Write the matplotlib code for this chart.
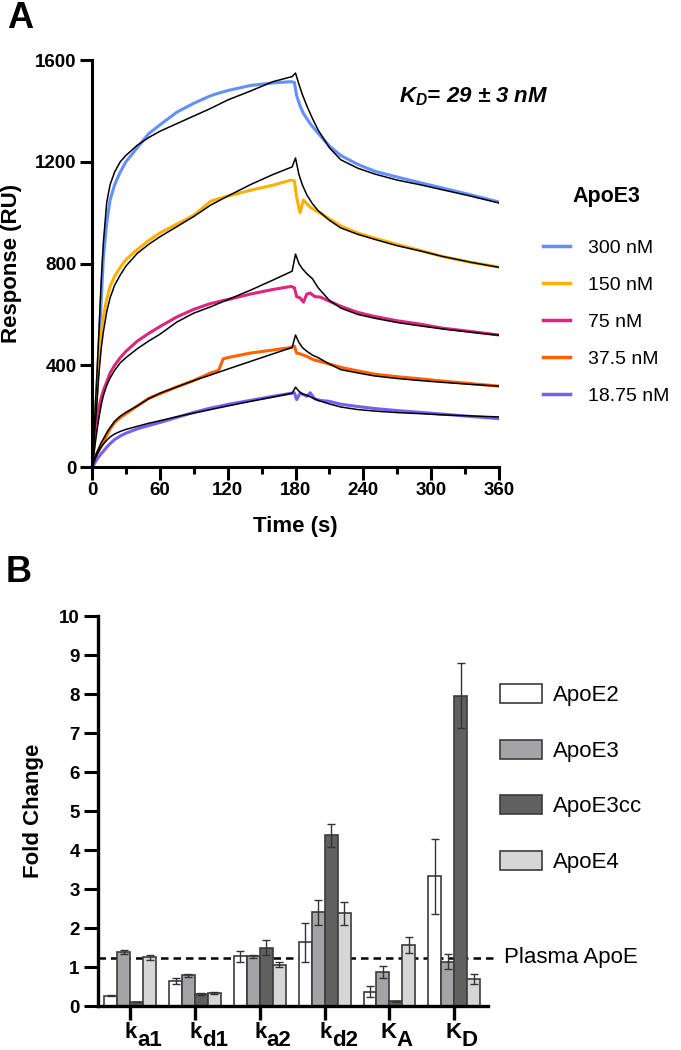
import numpy as np
import matplotlib
matplotlib.use('Agg')
import matplotlib.pyplot as plt
from matplotlib.lines import Line2D
from matplotlib.patches import Patch

plt.rcParams['font.family'] = ['Liberation Sans', 'DejaVu Sans']
plt.rcParams['mathtext.fontset'] = 'custom'
plt.rcParams['mathtext.it'] = 'Liberation Sans:bold:italic'
plt.rcParams['mathtext.rm'] = 'Liberation Sans:bold:italic'

# ---------------- Panel A: sensorgrams (RU vs s) ----------------
t_data = [0, 1, 2, 4, 6, 8, 10, 13, 16, 20, 25, 30, 40, 50, 60, 75, 90, 105, 112, 116, 120,
          140, 160, 176, 179, 181, 184, 187, 190, 193, 197, 202, 210, 220, 235, 250, 270,
          290, 310, 335, 360]
t_fit = [0, 1, 2, 4, 6, 8, 10, 13, 16, 20, 25, 30, 40, 50, 60, 75, 90, 105, 120, 140, 160,
         177, 180, 183, 186, 190, 195, 200, 210, 220, 235, 250, 270, 290, 310, 335, 360]

conc_labels = ['300 nM', '150 nM', '75 nM', '37.5 nM', '18.75 nM']
conc_colors = ['#648FFF', '#FFB000', '#DC267F', '#FE6100', '#785EF0']

resp_300 = [0, 40, 110, 280, 460, 640, 820, 960, 1050, 1110, 1160, 1200, 1255, 1310, 1345,
            1395, 1430, 1460, 1470, 1475, 1480, 1500, 1510, 1515, 1512, 1460, 1420, 1390,
            1370, 1350, 1328, 1302, 1262, 1225, 1190, 1163, 1140, 1118, 1097, 1070, 1042]
resp_150 = [0, 70, 140, 280, 420, 520, 590, 660, 710, 750, 785, 815, 855, 890, 920, 955,
            990, 1045, 1055, 1060, 1065, 1088, 1108, 1128, 1125, 1060, 1000, 1050, 1035,
            1022, 1010, 998, 975, 948, 920, 900, 875, 852, 828, 805, 786]
resp_75 = [0, 40, 110, 180, 230, 270, 300, 335, 370, 400, 430, 455, 495, 525, 552, 590,
           620, 643, 650, 655, 658, 680, 698, 710, 705, 670, 665, 648, 680, 684, 670, 668,
           652, 632, 608, 592, 575, 562, 546, 533, 519]
resp_37 = [0, 10, 25, 50, 65, 80, 95, 125, 150, 175, 195, 210, 240, 270, 288, 315, 340,
           370, 380, 425, 430, 448, 460, 470, 475, 448, 445, 440, 435, 428, 420, 415, 405,
           392, 378, 365, 355, 347, 338, 328, 318]
resp_18 = [0, 5, 12, 28, 40, 52, 62, 78, 92, 108, 122, 133, 150, 163, 175, 195, 215, 232,
           238, 242, 246, 262, 278, 290, 292, 265, 290, 285, 278, 292, 268, 262, 258, 247,
           238, 230, 222, 215, 208, 199, 190]

fit_300 = [0, 70, 160, 330, 520, 720, 880, 1040, 1110, 1160, 1200, 1225, 1265, 1295, 1320,
           1350, 1380, 1410, 1443, 1478, 1515, 1535, 1549, 1505, 1465, 1420, 1370, 1325,
           1255, 1208, 1175, 1152, 1128, 1110, 1090, 1065, 1038]
fit_150 = [0, 60, 120, 230, 360, 460, 530, 610, 665, 715, 755, 790, 840, 875, 905, 945,
           985, 1030, 1065, 1110, 1150, 1180, 1215, 1150, 1110, 1070, 1035, 1008, 970, 940,
           915, 895, 870, 850, 828, 805, 785]
fit_75 = [0, 30, 65, 130, 190, 240, 280, 320, 350, 380, 410, 430, 465, 495, 522, 570, 605,
          630, 658, 695, 735, 770, 837, 800, 780, 760, 740, 705, 655, 625, 600, 585, 568,
          555, 543, 530, 518]
fit_37 = [0, 15, 30, 55, 75, 95, 110, 135, 155, 180, 200, 215, 240, 268, 290, 315, 340, 362,
          385, 415, 445, 470, 519, 490, 470, 455, 440, 430, 405, 383, 370, 358, 348, 340,
          333, 325, 318]
fit_18 = [0, 10, 22, 45, 62, 78, 90, 105, 118, 130, 140, 148, 160, 172, 182, 198, 212, 226,
          240, 258, 275, 290, 314, 298, 288, 282, 272, 262, 248, 236, 226, 220, 214, 210,
          205, 201, 197]

responses = [resp_300, resp_150, resp_75, resp_37, resp_18]
fits = [fit_300, fit_150, fit_75, fit_37, fit_18]

# ---------------- Panel B: fold change ----------------
params = ['a1', 'd1', 'a2', 'd2', 'A', 'D']
param_letters = ['k', 'k', 'k', 'k', 'K', 'K']
isoforms = ['ApoE2', 'ApoE3', 'ApoE3cc', 'ApoE4']
iso_colors = ['#ffffff', '#a3a3a8', '#606060', '#d6d6d6']

fold = {
    'ApoE2':   [0.26, 0.65, 1.27, 1.63, 0.37, 3.33],
    'ApoE3':   [1.39, 0.79, 1.27, 2.41, 0.88, 1.14],
    'ApoE3cc': [0.10, 0.31, 1.50, 4.38, 0.12, 7.96],
    'ApoE4':   [1.25, 0.34, 1.06, 2.38, 1.56, 0.69],
}
fold_err = {
    'ApoE2':   [0.01, 0.08, 0.15, 0.50, 0.15, 0.96],
    'ApoE3':   [0.05, 0.04, 0.04, 0.32, 0.15, 0.20],
    'ApoE3cc': [0.01, 0.03, 0.19, 0.29, 0.02, 0.83],
    'ApoE4':   [0.06, 0.02, 0.06, 0.29, 0.20, 0.12],
}
plasma_level = 1.24

fig = plt.figure(figsize=(6.81, 10.5), dpi=100)

# ----- panel A
ax1 = fig.add_axes([0.1351, 0.5552, 0.5977, 0.3876])
for resp, col in zip(responses, conc_colors):
    ax1.plot(t_data, resp, color=col, lw=2.2, zorder=2, solid_joinstyle='round')
for fit in fits:
    ax1.plot(t_fit, fit, color='black', lw=1.1, zorder=3)

ax1.set_xlim(0, 360)
ax1.set_ylim(0, 1600)
ax1.set_xticks(range(0, 361, 60))
ax1.set_xticks(range(30, 361, 60), minor=True)
ax1.set_yticks(range(0, 1601, 400))
for s in ['top', 'right']:
    ax1.spines[s].set_visible(False)
for s in ['left', 'bottom']:
    ax1.spines[s].set_linewidth(2.2)
ax1.tick_params(axis='both', which='major', length=9, width=2.2, labelsize=13.5, pad=2)
ax1.tick_params(axis='x', which='minor', length=5, width=2.2)
for lab in ax1.get_xticklabels() + ax1.get_yticklabels():
    lab.set_fontweight('bold')
ax1.set_xlabel('Time (s)', fontsize=16, fontweight='bold', labelpad=12)
ax1.set_ylabel('Response (RU)', fontsize=16, fontweight='bold')
ax1.yaxis.set_label_coords(-0.172, 0.5)

ax1.text(0.9386, 0.909, r'$K_D$= 29 ± 3 nM', transform=ax1.transAxes, fontsize=16,
         fontweight='bold', fontstyle='italic', ha='center', va='center')

handles = [Line2D([0], [0], color=c, lw=2.5) for c in conc_colors]
leg1 = ax1.legend(handles, conc_labels, title='ApoE3', loc='upper left',
                  bbox_to_anchor=(543 / 681, 1 - 186 / 1050),
                  bbox_transform=fig.transFigure, frameon=False, fontsize=14,
                  title_fontproperties={'weight': 'bold', 'size': 15.5},
                  handlelength=1.4, handletextpad=0.9, labelspacing=1.0, borderpad=0,
                  borderaxespad=0)
leg1._legend_box.sep = 23

fig.text(20 / 681, 1 - 18 / 1050, 'A', fontsize=26, fontweight='bold', ha='center', va='center')

# ----- panel B
ax2 = fig.add_axes([0.1435, 0.0419, 0.5731, 0.3714])
x = np.arange(len(params))
w = 0.2
for j, iso in enumerate(isoforms):
    ax2.bar(x + (j - 1.5) * w, fold[iso], width=w, color=iso_colors[j], edgecolor='#3c3c3c',
            linewidth=1.2, zorder=2, label=iso,
            yerr=fold_err[iso], capsize=3,
            error_kw={'ecolor': '#333333', 'elinewidth': 1.0, 'capthick': 1.0, 'zorder': 3})

ax2.axhline(plasma_level, xmin=0, xmax=1.026, color='black', lw=1.8, ls=(0, (3, 2)),
            zorder=1, clip_on=False)
ax2.text(1.04, plasma_level, 'Plasma ApoE', transform=ax2.get_yaxis_transform(),
         fontsize=16, ha='left', va='center')

ax2.set_xlim(-0.5, 5.52)
ax2.set_ylim(0, 10)
ax2.set_yticks(range(0, 11))
ax2.set_xticks(x)
ax2.set_xticklabels([''] * len(x))
for s in ['top', 'right']:
    ax2.spines[s].set_visible(False)
for s in ['left', 'bottom']:
    ax2.spines[s].set_linewidth(2.4)
ax2.tick_params(axis='y', length=10, width=2.2, labelsize=13.5, pad=3)
ax2.tick_params(axis='x', length=10, width=2.4)
for lab in ax2.get_yticklabels():
    lab.set_fontweight('bold')
ax2.set_ylabel('Fold Change', fontsize=16, fontweight='bold')
ax2.yaxis.set_label_coords(-0.138, 0.5)

for i, (letter, sub) in enumerate(zip(param_letters, params)):
    ax2.annotate(letter, xy=(i, 0), xycoords=('data', 'axes fraction'), xytext=(7, -32),
                 textcoords='offset pixels', ha='right', va='baseline', fontsize=16,
                 fontweight='bold', annotation_clip=False)
    ax2.annotate(sub, xy=(i, 0), xycoords=('data', 'axes fraction'), xytext=(7, -40),
                 textcoords='offset pixels', ha='left', va='baseline', fontsize=16,
                 fontweight='bold', annotation_clip=False)

patches = [Patch(facecolor=c, edgecolor='#3c3c3c', linewidth=1.2) for c in iso_colors]
ax2.legend(patches, isoforms, loc='upper left', bbox_to_anchor=(500 / 681, 1 - 684 / 1050),
           bbox_transform=fig.transFigure, frameon=False, fontsize=16,
           handlelength=1.9, handleheight=0.95, handletextpad=0.5, labelspacing=1.5,
           borderpad=0, borderaxespad=0)

fig.text(19 / 681, 1 - 572 / 1050, 'B', fontsize=26, fontweight='bold', ha='center', va='center')

fig.savefig('out.png', dpi=100)
plt.close('all')
